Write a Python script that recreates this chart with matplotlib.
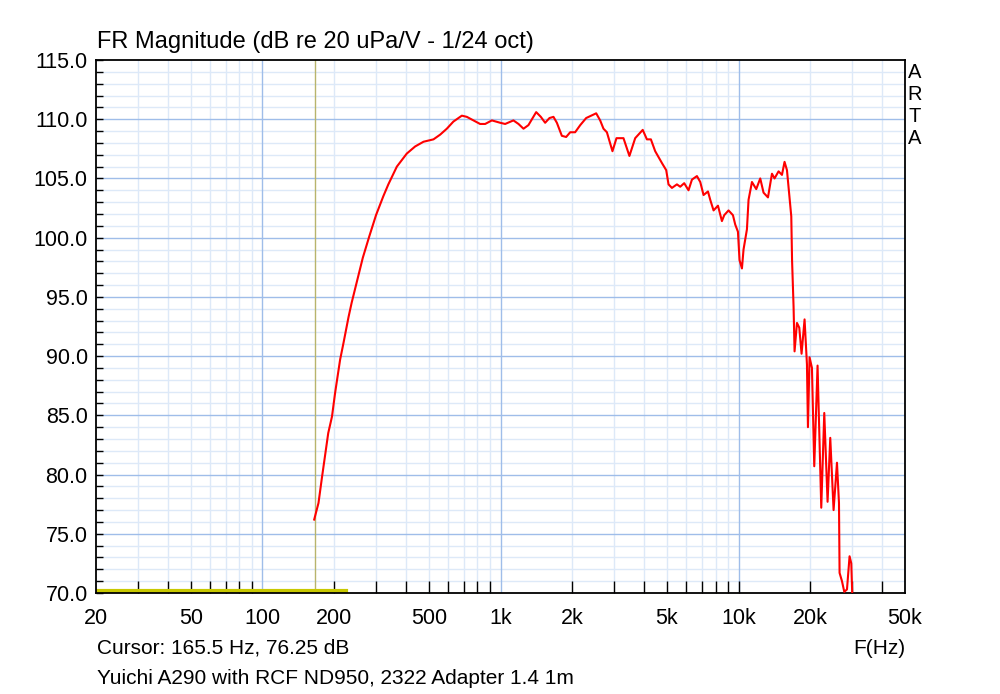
import matplotlib.pyplot as plt
from matplotlib.ticker import FixedLocator, NullFormatter, MultipleLocator

plt.rcParams['font.family'] = ['Liberation Sans', 'DejaVu Sans']

# Frequency response (Hz, dB re 20 uPa/V)
freq = [165, 172, 178, 183, 189, 196, 202, 212, 219, 230, 237, 250, 264, 281,
        300, 322, 338, 367, 404, 438, 475, 523, 558, 595, 634, 688, 722, 770,
        821, 862, 920, 997, 1046, 1133, 1190, 1249, 1310, 1412, 1477, 1540,
        1606, 1669, 1725, 1810, 1887, 1962, 2058, 2162, 2290, 2404, 2523, 2622,
        2707, 2798, 2953, 3070, 3285, 3479, 3679, 3957, 4120, 4282, 4464, 4765,
        4966, 5078, 5248, 5508, 5687, 5910, 6162, 6369, 6684, 6902, 7126, 7436,
        7602, 7850, 8192, 8511, 8704, 9073, 9468, 9683, 9938, 10092, 10330,
        10490, 10840, 11012, 11380, 11862, 12330, 12730, 13286, 13810, 14158,
        14720, 15212, 15598, 15966, 16372, 16646, 16772, 17018, 17183, 17588,
        17986, 18388, 18930, 19370, 19558, 19866, 20330, 20788, 21464, 22246,
        22902, 23646, 24270, 25060, 25898, 26404, 26556, 27180, 27792, 28526,
        29252, 29742, 30114]
mag = [76.2, 77.6, 79.8, 81.5, 83.5, 84.9, 86.9, 89.7, 91.1, 93.3, 94.5, 96.4,
       98.3, 100.1, 101.9, 103.5, 104.5, 106.0, 107.1, 107.7, 108.1, 108.3,
       108.7, 109.2, 109.8, 110.3, 110.2, 109.9, 109.6, 109.6, 109.9, 109.7,
       109.6, 109.9, 109.6, 109.2, 109.5, 110.6, 110.2, 109.7, 110.1, 110.2,
       109.7, 108.6, 108.5, 108.9, 108.9, 109.5, 110.1, 110.3, 110.5, 109.9,
       109.2, 108.9, 107.3, 108.4, 108.4, 106.9, 108.4, 109.1, 108.3, 108.3,
       107.3, 106.3, 105.7, 104.5, 104.2, 104.5, 104.3, 104.6, 104.0, 104.9,
       105.2, 104.7, 103.6, 103.9, 103.2, 102.3, 102.7, 101.4, 101.9, 102.3,
       101.9, 101.1, 100.5, 98.1, 97.4, 99.0, 100.7, 103.2, 104.7, 104.1,
       105.0, 103.8, 103.4, 105.4, 105.0, 105.6, 105.3, 106.4, 105.7, 103.3,
       101.8, 98.1, 94.2, 90.4, 92.8, 92.4, 90.2, 93.1, 89.3, 84.0, 89.9, 89.0,
       80.7, 89.2, 77.2, 85.2, 77.7, 83.1, 77.0, 81.0, 77.6, 71.7, 71.0, 70.1,
       70.3, 73.1, 72.5, 69.0]

cursor_f = 165.5
band_f = [20, 224]
band_db = [70.2, 70.2]

xlabels = ['20', '50', '100', '200', '500', '1k', '2k', '5k', '10k', '20k', '50k']
xlabel_pos = [20, 50, 100, 200, 500, 1000, 2000, 5000, 10000, 20000, 50000]

major_c = '#9fbde9'
minor_c = '#dde9f8'

fig = plt.figure(figsize=(10, 6.94), dpi=100)
ax = fig.add_axes([0.096, 1 - 593 / 694, 0.809, 533 / 694])
ax.set_xscale('log')
ax.set_xlim(20, 50000)
ax.set_ylim(70, 115)

# grid
minor_f = [m * 10 ** k for k in range(1, 5) for m in range(2, 10)
           if 20 < m * 10 ** k < 50000]
for f in minor_f:
    ax.axvline(f, color=minor_c, lw=1, zorder=0)
for f in [100, 1000, 10000]:
    ax.axvline(f, color=major_c, lw=1, zorder=0.5)
for y in range(71, 115):
    ax.axhline(y, color=major_c if y % 5 == 0 else minor_c, lw=1,
               zorder=0.5 if y % 5 == 0 else 0)

ax.axvline(cursor_f, color='#b8b46c', lw=1, zorder=1)
ax.plot(band_f, band_db, color='#c8c800', lw=3, zorder=2)
ax.plot(freq, mag, color='#ff0000', lw=1.5, zorder=3)

# ticks
ax.xaxis.remove_overlapping_locs = False
ax.yaxis.remove_overlapping_locs = False
ax.xaxis.set_major_locator(FixedLocator(xlabel_pos))
ax.set_xticklabels(xlabels)
ax.xaxis.set_minor_locator(FixedLocator(minor_f + [10000]))
ax.xaxis.set_minor_formatter(NullFormatter())
ax.yaxis.set_major_locator(MultipleLocator(5))
ax.yaxis.set_minor_locator(MultipleLocator(1))
ax.set_yticklabels([f'{v:.1f}' for v in ax.get_yticks()])
ax.tick_params(which='major', length=0, labelsize=15.5)
ax.tick_params(axis='x', which='major', pad=11)
ax.tick_params(axis='y', which='major', pad=6)
ax.tick_params(axis='x', which='minor', direction='in', length=8.5, width=1)
ax.tick_params(axis='y', which='minor', direction='in', length=5, width=1)
for s in ax.spines.values():
    s.set_linewidth(1.3)

# texts
fig.text(97 / 1000, 1 - 42 / 694, 'FR Magnitude (dB re 20 uPa/V - 1/24 oct)',
         fontsize=17, va='center', ha='left')
fig.text(97 / 1000, 1 - 648 / 694, 'Cursor: 165.5 Hz, 76.25 dB',
         fontsize=15, va='center', ha='left')
fig.text(97 / 1000, 1 - 678 / 694, 'Yuichi A290 with RCF ND950, 2322 Adapter 1.4 1m',
         fontsize=15, va='center', ha='left')
fig.text(905 / 1000, 1 - 648 / 694, 'F(Hz)', fontsize=15, va='center', ha='right')
for i, ch in enumerate('ARTA'):
    fig.text(915 / 1000, 1 - (72 + i * 22) / 694, ch, fontsize=14.5,
             va='center', ha='center')

fig.savefig('out.png', dpi=100)
